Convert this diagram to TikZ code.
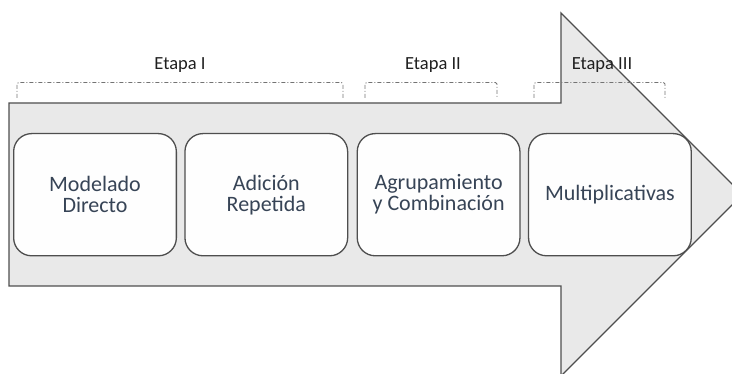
\documentclass[tikz,border=0pt]{standalone}
\usepackage{fontspec}
\setmainfont{Carlito}
\usetikzlibrary{positioning}
\definecolor{shaft}{RGB}{233,233,233}
\definecolor{edge}{RGB}{78,78,78}
\definecolor{slate}{RGB}{55,68,86}
\definecolor{dots}{RGB}{115,115,115}
\tikzset{
  body/.style={draw=edge,fill=shaft,line width=1.4pt,line join=miter},
  stage/.style={draw=edge,fill=white!97!shaft,rounded corners=18pt,line width=1.3pt,
    minimum width=162.7pt,minimum height=122.2pt,inner sep=0pt,align=center,
    text=slate,font=\fontsize{22}{21}\selectfont},
  etapa/.style={font=\fontsize{18.5}{20}\selectfont,text=black!88},
  brace/.style={draw=dots,line width=0.9pt,rounded corners=1.5pt,
    dash pattern=on 4pt off 2pt on 1pt off 2pt},
}
\begin{document}
\begin{tikzpicture}[x=1pt,y=-1pt]
  \useasboundingbox (0,0) rectangle (732,374);
  \clip (0,0) rectangle (732,374);
  % big arrow
  \draw[body] (9,103) -- (561,103) -- (561,13) -- (742.5,194.5)
    -- (561,376) -- (561,286) -- (9,286) -- cycle;
  % stages
  \node[stage] (modelado) at (95,194.7) {Modelado\\Directo};
  \node[stage,right=7.3pt of modelado] (adicion) {Adición\\Repetida};
  \node[stage,right=8.3pt of adicion] (agrupa) {Agrupamiento\\y Combinación};
  \node[stage,right=7.3pt of agrupa] (multi) {Multiplicativas};
  % brackets
  \draw[brace] (17,98) -- (17,82.5) -- (343,82.5) -- (343,98);
  \draw[brace] (365,98) -- (365,82.5) -- (497,82.5) -- (497,98);
  \draw[brace] (534,98) -- (534,82.5) -- (665,82.5) -- (665,98);
  \node[etapa] (etapa1) at (180,65) {Etapa I};
  \node[etapa] (etapa2) at (433,65) {Etapa II};
  \node[etapa] (etapa3) at (602,65) {Etapa III};
\end{tikzpicture}
\end{document}
